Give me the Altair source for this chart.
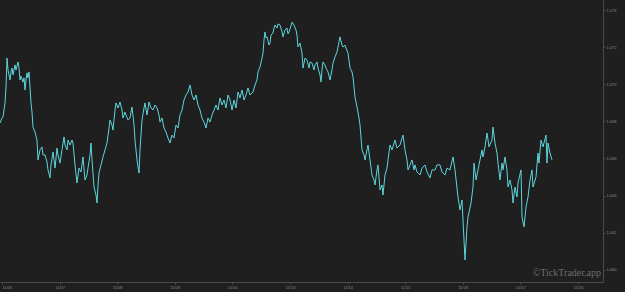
import altair as alt
import pandas as pd

# (bar index of 25-minute bars, closing price)
points = [
    (0,1.06791),(2,1.06818),(3,1.06823),(4,1.06861),(5,1.06899),(6,1.06985),(7,1.07141),(8,1.07077),
    (10,1.07023),(11,1.07066),(12,1.07087),(13,1.07050),(15,1.07104),(16,1.07077),(18,1.07120),(19,1.07087),
    (20,1.07023),(21,1.07044),(23,1.07012),(24,1.07034),(25,1.06969),(26,1.07023),(27,1.07061),(28,1.07034),
    (29,1.07066),(31,1.06899),(32,1.06850),(33,1.06769),(35,1.06742),(37,1.06699),(38,1.06592),(40,1.06646),
    (42,1.06662),(43,1.06619),(45,1.06619),(47,1.06581),(48,1.06538),(50,1.06495),(51,1.06565),(53,1.06635),
    (54,1.06592),(55,1.06548),(57,1.06656),(58,1.06619),(60,1.06575),(62,1.06646),(64,1.06716),(65,1.06672),
    (67,1.06646),(68,1.06699),(70,1.06672),(72,1.06699),(73,1.06683),(75,1.06565),(77,1.06468),(79,1.06548),
    (81,1.06527),(83,1.06608),(85,1.06484),(87,1.06511),(88,1.06548),(90,1.06619),(91,1.06683),(92,1.06592),
    (94,1.06446),(96,1.06403),(97,1.06360),(98,1.06457),(99,1.06521),(101,1.06565),(103,1.06608),(105,1.06646),
    (107,1.06683),(109,1.06764),(110,1.06807),(112,1.06780),(113,1.06753),(115,1.06861),(116,1.06899),(118,1.06872),
    (120,1.06904),(122,1.06861),(123,1.06818),(125,1.06850),(126,1.06834),(128,1.06807),(130,1.06818),(131,1.06850),
    (132,1.06877),(134,1.06780),(135,1.06699),(137,1.06592),(139,1.06521),(140,1.06646),(142,1.06807),(144,1.06872),
    (145,1.06899),(147,1.06834),(149,1.06904),(151,1.06872),(153,1.06861),(155,1.06888),(157,1.06872),(159,1.06834),
    (160,1.06796),(162,1.06818),(164,1.06764),(166,1.06742),(168,1.06710),(170,1.06683),(172,1.06726),(174,1.06710),
    (176,1.06780),(178,1.06764),(180,1.06834),(182,1.06861),(184,1.06915),(186,1.06942),(188,1.06958),(190,1.06996),
    (192,1.06942),(194,1.06915),(196,1.06942),(198,1.06888),(200,1.06861),(202,1.06818),(204,1.06796),(206,1.06764),
    (208,1.06818),(210,1.06796),(212,1.06834),(214,1.06861),(216,1.06888),(218,1.06861),(220,1.06926),(222,1.06888),
    (224,1.06915),(226,1.06872),(228,1.06942),(230,1.06915),(232,1.06861),(234,1.06915),(236,1.06872),(238,1.06958),
    (240,1.06926),(242,1.06969),(244,1.06915),(246,1.06942),(248,1.06980),(250,1.06942),(253,1.06958),(255,1.06996),
    (257,1.07023),(258,1.07066),(260,1.07093),(262,1.07141),(263,1.07168),(264,1.07238),(265,1.07282),(266,1.07249),
    (267,1.07255),(269,1.07211),(270,1.07222),(271,1.07265),(273,1.07276),(274,1.07303),(275,1.07319),(277,1.07303),
    (278,1.07325),(280,1.07319),(282,1.07282),(283,1.07255),(285,1.07292),(287,1.07303),(288,1.07271),(289,1.07282),
    (291,1.07314),(292,1.07335),(294,1.07319),(296,1.07292),(297,1.07265),(298,1.07201),(300,1.07222),(302,1.07168),
    (303,1.07087),(305,1.07141),(307,1.07131),(309,1.07087),(310,1.07120),(312,1.07114),(314,1.07077),(315,1.07104),
    (317,1.07120),(318,1.07087),(320,1.07050),(321,1.07012),(322,1.07077),(323,1.07120),(325,1.07104),(326,1.07087),
    (328,1.07066),(330,1.07023),(332,1.07077),(333,1.07114),(335,1.07147),(337,1.07174),(338,1.07201),(339,1.07228),
    (340,1.07255),(342,1.07211),(343,1.07201),(345,1.07211),(346,1.07195),(348,1.07168),(350,1.07087),(352,1.07066),
    (353,1.07039),(355,1.06931),(357,1.06877),(359,1.06818),(360,1.06780),(362,1.06646),(364,1.06619),(365,1.06592),
    (367,1.06646),(368,1.06672),(370,1.06592),(372,1.06511),(374,1.06484),(375,1.06457),(377,1.06538),(378,1.06565),
    (380,1.06430),(382,1.06457),(383,1.06403),(385,1.06511),(387,1.06548),(388,1.06592),(390,1.06672),(392,1.06646),
    (395,1.06699),(397,1.06656),(400,1.06672),(402,1.06710),(403,1.06726),(405,1.06646),(407,1.06592),(408,1.06538),
    (410,1.06565),(412,1.06592),(414,1.06538),(415,1.06565),(417,1.06527),(420,1.06511),(422,1.06548),(425,1.06565),
    (427,1.06527),(430,1.06495),(432,1.06538),(435,1.06538),(437,1.06565),(440,1.06565),(442,1.06527),(445,1.06511),
    (447,1.06548),(450,1.06538),(453,1.06608),(455,1.06538),(458,1.06392),(460,1.06322),(462,1.06376),(463,1.06268),
    (465,1.06053),(467,1.06231),(468,1.06284),(471,1.06360),(473,1.06446),(474,1.06575),(476,1.06484),(478,1.06538),
    (482,1.06646),(483,1.06608),(485,1.06662),(487,1.06737),(489,1.06662),(492,1.06699),(493,1.06769),(495,1.06683),
    (497,1.06629),(498,1.06575),(500,1.06484),(502,1.06575),(503,1.06538),(505,1.06608),(507,1.06538),(508,1.06446),
    (510,1.06484),(512,1.06430),(513,1.06360),(515,1.06446),(517,1.06392),(518,1.06468),(521,1.06538),(522,1.06284),
    (524,1.06231),(526,1.06338),(528,1.06392),(530,1.06484),(532,1.06538),(533,1.06446),(536,1.06500),(538,1.06629),
    (539,1.06575),(541,1.06699),(543,1.06662),(546,1.06726),(547,1.06575),(548,1.06683),(550,1.06629),(552,1.06592),
]
bars = [b for b, _ in points]
prices = [p for _, p in points]

# day-boundary ticks (bar index) and their labels
tick_bars = [2, 59.6, 117.2, 174.8, 232.4, 290, 347.6, 405.2, 462.8, 520.4, 578]
tick_labels = ["11/06", "11/07", "11/08", "11/09", "11/10", "11/13",
               "11/14", "11/15", "11/16", "11/17", "11/20"]
price_ticks = [1.060, 1.062, 1.064, 1.066, 1.068, 1.070, 1.072, 1.074]

df = pd.DataFrame({"bar": bars, "price": prices})

label_arr = "[" + ",".join("'%s'" % s for s in tick_labels) + "]"
label_expr = label_arr + "[round((datum.value - 2) / 57.6)]"

axis_col = "#8a8a8a"

line = alt.Chart(df).mark_line(color="#5cd6dc", strokeWidth=1).encode(
    x=alt.X("bar:Q",
            scale=alt.Scale(domain=[0, 603], nice=False, zero=False),
            axis=alt.Axis(values=tick_bars, labelExpr=label_expr, title=None,
                          grid=False, domainColor="#4a4a4a", tickColor="#4a4a4a",
                          tickSize=2, labelFontSize=4, labelColor=axis_col,
                          labelPadding=1, labelFlush=5)),
    y=alt.Y("price:Q",
            scale=alt.Scale(domain=[1.05934, 1.07454], nice=False, zero=False),
            axis=alt.Axis(orient="right", values=price_ticks, format=".3f",
                          title=None, grid=False, domainColor="#4a4a4a",
                          tickColor="#4a4a4a", tickSize=2, labelFontSize=4,
                          labelColor=axis_col, labelPadding=1)),
)

mark = alt.Chart(pd.DataFrame({"t": ["©TickTrader.app"]})).mark_text(
    font="Liberation Serif", fontSize=10, color="#6e6e6e", align="right",
    baseline="middle"
).encode(x=alt.value(601), y=alt.value(273), text="t:N")

chart = alt.layer(line, mark).properties(
    width=603, height=282,
    autosize=alt.AutoSizeParams(type="none"),
    padding={"left": 0, "top": 0, "right": 22, "bottom": 10},
    background="#1f1f1f",
).configure_view(stroke=None)

chart.save("out.html", embed_options={"renderer": "svg", "actions": False})
